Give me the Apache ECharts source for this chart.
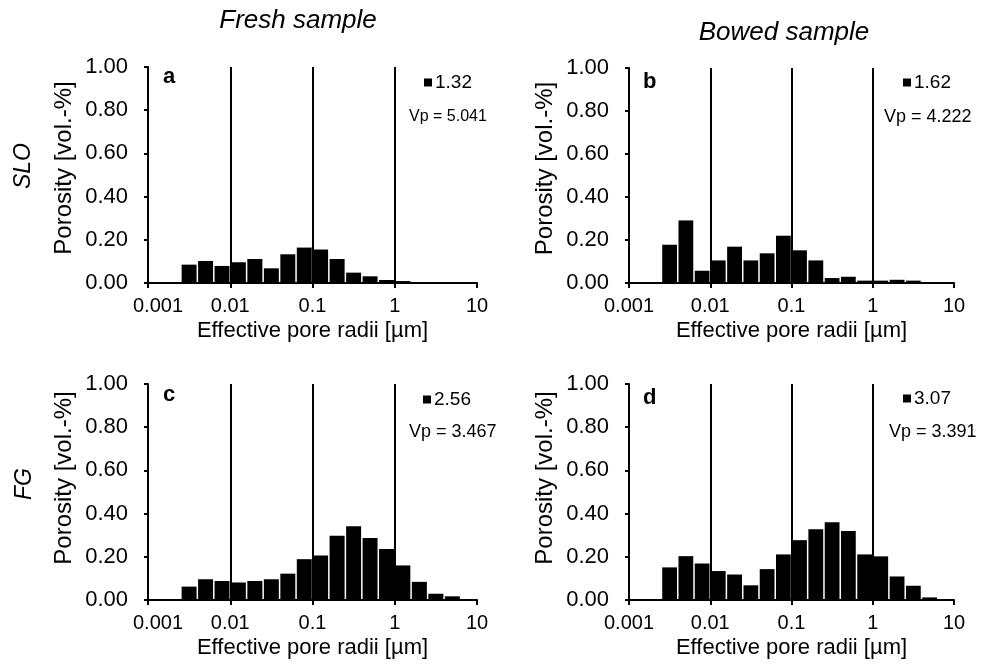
<!DOCTYPE html>
<html>
<head>
<meta charset="utf-8">
<script src="https://cdn.jsdelivr.net/npm/echarts@6/dist/echarts.min.js"></script>
<style>
  html, body { margin: 0; padding: 0; background: #fff; }
  #grafico { width: 989px; height: 669px; }
</style>
</head>
<body>
<div id="grafico"></div>
<script>
// bin edges of the pore radius classes [µm], 5 per decade
const binEdges = [0.00251, 0.00398, 0.00631, 0.01, 0.0158, 0.0251, 0.0398, 0.0631, 0.1,
    0.158, 0.251, 0.398, 0.631, 1, 1.58, 2.51, 3.98, 6.31, 10];

// porosity per class [vol.-%]
const porosidadFrescoSLO = [0.085, 0.102, 0.079, 0.096, 0.111, 0.068, 0.133, 0.164, 0.155,
    0.111, 0.048, 0.031, 0.014, 0.009, 0, 0, 0, 0];
const porosidadCurvadoSLO = [0.178, 0.291, 0.057, 0.105, 0.169, 0.105, 0.138, 0.220, 0.152,
    0.105, 0.023, 0.029, 0.011, 0.011, 0.015, 0.011, 0, 0];
const porosidadFrescoFG = [0.062, 0.096, 0.088, 0.081, 0.088, 0.096, 0.122, 0.189, 0.206,
    0.298, 0.341, 0.287, 0.236, 0.160, 0.084, 0.029, 0.017, 0];
const porosidadCurvadoFG = [0.151, 0.203, 0.169, 0.134, 0.118, 0.068, 0.143, 0.211, 0.277,
    0.328, 0.360, 0.320, 0.211, 0.202, 0.109, 0.066, 0.012, 0];

const leyendas = ['1.32', '1.62', '2.56', '3.07'];
const valoresVp = ['Vp = 5.041', 'Vp = 4.222', 'Vp = 3.467', 'Vp = 3.391'];
const letras = ['a', 'b', 'c', 'd'];
const lineasGuia = [0.01, 0.1, 1];
const etiquetasX = ['0.001', '0.01', '0.1', '1', '10'];

const fuente = '"Liberation Sans", Arial, Helvetica, sans-serif';

const paneles = [
    { datos: porosidadFrescoSLO, grid: { left: 148, top: 67, width: 329, height: 216 },
      letra: [163, 77], leyenda: [424, 73], vp: [409, 117], izq: true },
    { datos: porosidadCurvadoSLO, grid: { left: 629, top: 68, width: 325, height: 215 },
      letra: [643, 82], leyenda: [903, 73], vp: [884, 117], izq: false },
    { datos: porosidadFrescoFG, grid: { left: 148, top: 384, width: 329, height: 216 },
      letra: [163, 395], leyenda: [423, 390], vp: [409, 432], izq: true },
    { datos: porosidadCurvadoFG, grid: { left: 629, top: 384, width: 325, height: 216 },
      letra: [643, 398], leyenda: [903, 389], vp: [889, 432], izq: false }
];

const dibujarClase = (params, api) => {
    if (!api.value(2)) {
        return null;
    }
    const base = api.coord([api.value(0), 0]);
    const tope = api.coord([api.value(1), api.value(2)]);
    return {
        type: 'rect',
        shape: { x: base[0] + 0.75, y: tope[1], width: tope[0] - base[0] - 1.5, height: base[1] - tope[1] },
        style: { fill: '#000' }
    };
};

const grids = [], ejesX = [], ejesY = [], series = [], leyendasCfg = [], textos = [];

paneles.forEach((panel, i) => {
    grids.push(Object.assign({ containLabel: false }, panel.grid));
    ejesX.push({
        type: 'log', logBase: 10, min: 0.001, max: 10, gridIndex: i,
        name: 'Effective pore radii [µm]', nameLocation: 'middle', nameGap: 37,
        nameTextStyle: { fontSize: 22, color: '#000', fontFamily: fuente },
        axisLine: { show: true, lineStyle: { color: '#000', width: 2 } },
        axisTick: { show: true, length: 5, lineStyle: { color: '#000', width: 2 } },
        minorTick: { show: false },
        splitLine: { show: false },
        axisLabel: {
            fontSize: 20, color: '#000', fontFamily: fuente, margin: 13,
            showMinLabel: true, showMaxLabel: true,
            rich: { p: { fontSize: 20, color: '#000', fontFamily: fuente, padding: [0, 0, 0, 20] } },
            formatter: v => {
                const k = Math.round(Math.log10(v)) + 3;
                return (k === 0 && panel.izq) ? '{p|' + etiquetasX[k] + '}' : etiquetasX[k];
            }
        }
    });
    ejesY.push({
        type: 'value', min: 0, max: 1, interval: 0.2, gridIndex: i,
        name: 'Porosity [vol.-%]', nameLocation: 'middle', nameGap: 72,
        nameTextStyle: { fontSize: 24, color: '#000', fontFamily: fuente,
            padding: [0, 0, 0, i < 2 ? 14 : 28] },
        axisLine: { show: true, lineStyle: { color: '#000', width: 2 } },
        axisTick: { show: true, length: 4, lineStyle: { color: '#000', width: 2 } },
        splitLine: { show: false },
        axisLabel: { fontSize: 22, color: '#000', fontFamily: fuente, margin: 20,
            formatter: v => v.toFixed(2) }
    });
    series.push({
        type: 'custom', name: leyendas[i], xAxisIndex: i, yAxisIndex: i,
        renderItem: dibujarClase,
        itemStyle: { color: '#000' },
        encode: { x: [0, 1], y: 2 },
        data: panel.datos.map((v, k) => [binEdges[k], binEdges[k + 1], v]),
        markLine: {
            silent: true, symbol: ['none', 'none'], label: { show: false },
            lineStyle: { color: '#000', width: 2, type: 'solid' },
            data: lineasGuia.map(x => ({ xAxis: x }))
        },
        animation: false
    });
    leyendasCfg.push({
        data: [leyendas[i]], left: panel.leyenda[0], top: panel.leyenda[1], padding: 0,
        icon: 'rect', itemWidth: 8, itemHeight: 8, itemGap: 0,
        textStyle: { fontSize: 19, color: '#000', fontFamily: fuente, padding: [0, 0, 0, -2] }
    });
    textos.push({
        type: 'text', x: panel.letra[0], y: panel.letra[1],
        style: { text: letras[i], font: 'bold 22px ' + fuente, fill: '#000',
            textAlign: 'left', textVerticalAlign: 'middle', align: 'left', verticalAlign: 'middle' }
    });
    textos.push({
        type: 'text', x: panel.vp[0], y: panel.vp[1],
        style: { text: valoresVp[i], font: (i === 0 ? '16px ' : '18px ') + fuente, fill: '#000',
            textAlign: 'left', textVerticalAlign: 'middle', align: 'left', verticalAlign: 'middle' }
    });
});

const encabezados = [
    { text: 'Fresh sample', x: 298, y: 21, rot: 0, size: 26 },
    { text: 'Bowed sample', x: 784, y: 33, rot: 0, size: 26 },
    { text: 'SLO', x: 24, y: 166, rot: Math.PI / 2, size: 23 },
    { text: 'FG', x: 25, y: 484, rot: Math.PI / 2, size: 23 }
];
encabezados.forEach(e => {
    textos.push({
        type: 'text', x: e.x, y: e.y, rotation: e.rot,
        style: { text: e.text, font: 'italic ' + e.size + 'px ' + fuente, fill: '#000',
            textAlign: 'center', textVerticalAlign: 'middle', align: 'center', verticalAlign: 'middle' }
    });
});

const chart = echarts.init(document.getElementById('grafico'), null, { renderer: 'canvas' });
chart.setOption({
    animation: false,
    backgroundColor: '#fff',
    grid: grids,
    xAxis: ejesX,
    yAxis: ejesY,
    legend: leyendasCfg,
    series: series,
    graphic: textos
});
</script>
</body>
</html>
